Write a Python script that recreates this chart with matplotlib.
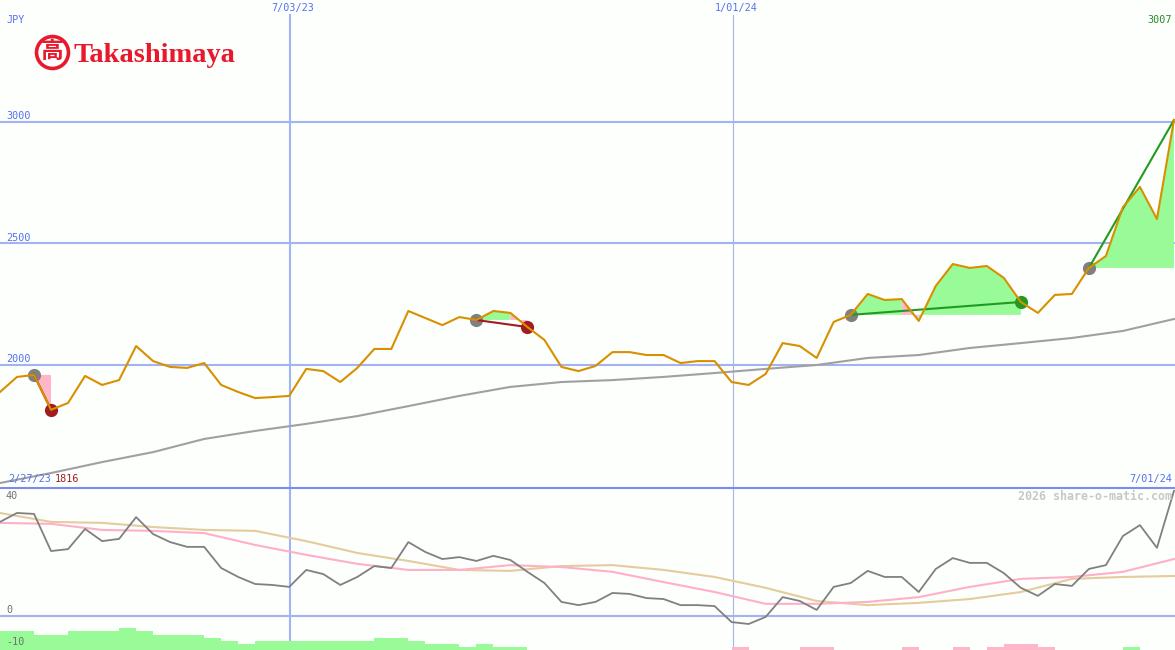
import matplotlib
matplotlib.use("Agg")
import matplotlib.pyplot as plt

# ----------------- Data (weekly) -----------------
price = [1889, 1951, 1959, 1816, 1844, 1955, 1918, 1938, 2078, 2016,
         1992, 1988, 2008, 1918, 1889, 1864, 1868, 1873, 1984, 1975,
         1930, 1988, 2066, 2066, 2222, 2193, 2164, 2197, 2185, 2222,
         2214, 2156, 2103, 1992, 1975, 1996, 2053, 2053, 2041, 2041,
         2008, 2016, 2016, 1930, 1918, 1963, 2090, 2078, 2029, 2177,
         2206, 2292, 2267, 2271, 2181, 2325, 2415, 2399, 2407, 2358,
         2259, 2214, 2288, 2292, 2399, 2448, 2649, 2732, 2600, 3007]

avg_weeks = [0, 3, 6, 9, 12, 15, 18, 21, 24, 27, 30, 33, 36, 39, 42, 45,
             48, 51, 54, 57, 60, 63, 66, 69]
price_avg = [1515, 1556, 1601, 1642, 1696, 1729, 1758, 1790, 1831, 1873,
             1910, 1930, 1938, 1951, 1967, 1984, 2000, 2029, 2041, 2070,
             2090, 2111, 2140, 2189]

osc = [29.4, 32.2, 31.9, 20.3, 20.9, 27.2, 23.4, 24.1, 30.9, 25.6,
       23.1, 21.6, 21.6, 15.0, 12.2, 10.0, 9.7, 9.1, 14.4, 13.1,
       9.7, 12.2, 15.6, 15.0, 23.1, 20.0, 17.8, 18.4, 17.2, 18.8,
       17.5, 13.8, 10.3, 4.4, 3.4, 4.4, 7.2, 6.9, 5.6, 5.3,
       3.4, 3.4, 3.1, -1.9, -2.5, -0.3, 5.9, 4.7, 1.9, 9.1,
       10.3, 14.1, 12.2, 12.2, 7.5, 14.7, 18.1, 16.6, 16.6, 13.4,
       8.8, 6.3, 10.0, 9.4, 14.7, 15.9, 25.0, 28.4, 21.3, 39.1]
osc_fast = [29.1, 28.8, 26.9, 26.6, 25.9, 22.2, 19.1, 16.3, 14.4, 14.4,
            15.9, 15.3, 13.8, 10.6, 7.5, 3.8, 3.8, 4.4, 5.9, 9.1,
            11.6, 12.2, 13.8, 17.8]
osc_slow = [32.2, 29.4, 29.1, 27.8, 26.9, 26.6, 23.4, 19.7, 17.2, 14.4,
            14.1, 15.6, 15.9, 14.4, 12.2, 8.8, 4.7, 3.4, 4.1, 5.3,
            7.5, 11.6, 12.2, 12.5]

# positive = green, negative = pink
hist = [5.9, 5.9, 4.7, 4.7, 5.9, 5.9, 5.9, 6.9, 5.9, 4.7,
        4.7, 4.7, 3.8, 2.8, 1.9, 2.8, 2.8, 2.8, 2.8, 2.8,
        2.8, 2.8, 3.8, 3.8, 2.8, 1.9, 1.9, 0.9, 1.9, 0.9,
        0.9, 0, 0, 0, 0, 0, 0, 0, 0, 0,
        0, 0, 0, -0.9, 0, 0, 0, -0.9, -0.9, 0,
        0, 0, 0, -0.9, 0, 0, -0.9, 0, -0.9, -1.9,
        -1.9, -0.9, 0, 0, 0, 0, 0.9, 0, 0, 0]

trade_start = [2, 28, 50, 64]
trade_end = [3, 31, 60, 69]
trade_closed = [True, True, True, False]

price_ticks = [3000, 2500, 2000]
month_weeks = [17.04, 43.08]
month_labels = ["7/03/23", "1/01/24"]

# ----------------- Colours -----------------
BG = "#fcfffc"
GRID = "#a2b2f2"
AXIS = "#7a8cf0"
LABEL = "#5570f0"
GREEN_FILL = "#98fb98"
PINK_FILL = "#ffb6c8"
GREEN = "#229a22"
RED = "#a01c20"
RED_LOGO = "#e8192c"

W, H = 1175, 650
SPLIT = 488  # pixel row between the two panels
WEEK_PX = 17.014
XMAX = W / WEEK_PX

fig = plt.figure(figsize=(W / 100, H / 100), dpi=100, facecolor=BG)

ax = fig.add_axes([0, 1 - SPLIT / H, 1, SPLIT / H])
ax2 = fig.add_axes([0, 0, 1, (H - SPLIT) / H])
for a in (ax, ax2):
    a.set_facecolor(BG)
    a.set_xlim(0, XMAX)
    a.set_xticks([])
    a.set_yticks([])
    for s in a.spines.values():
        s.set_visible(False)

# px per unit: 0.2433 in the price panel, 3.2 in the lower one
ax.set_ylim(2000 - (SPLIT - 365) / 0.2433, 2000 + 365 / 0.2433)
ax2.set_ylim((616 - H) / 3.2, (616 - SPLIT) / 3.2)
ymin2 = ax2.get_ylim()[0]

# ----------------- Price panel -----------------
for t in price_ticks:
    ax.axhline(t, color=GRID, lw=1.5, zorder=1)
ax.axvline(month_weeks[0], ymin=0, ymax=1 - 15 / SPLIT, color=GRID, lw=1.5, zorder=1)
ax.axvline(month_weeks[1], ymin=0, ymax=1 - 15 / SPLIT, color="#aab4e4", lw=0.8, zorder=1)

for start, end, closed in zip(trade_start, trade_end, trade_closed):
    level = price[start]
    # one patch per run of same coloured weeks, so no seams show between weeks
    run = start
    for i in range(start, end):
        above = price[i + 1] >= level
        if i + 1 == end or (price[i + 2] >= level) != above:
            xs = list(range(run, i + 2))
            ax.fill_between(xs, price[run:i + 2], level, facecolor=GREEN_FILL if above else PINK_FILL,
                            edgecolor="none", zorder=2)
            run = i + 1
    won = price[end] >= level
    ax.plot([start], [level], "o", color="#808080", ms=9.5, mew=0, zorder=3)
    if closed:
        ax.plot([end], [price[end]], "o", color=GREEN if won else RED, ms=9.5, mew=0, zorder=3)
    ax.plot([start, end], [level, price[end]], color=GREEN if won else RED, lw=1.5, zorder=3)

ax.plot(avg_weeks, price_avg, color="#a0a0a0", lw=1.5, zorder=4)
ax.plot(range(len(price)), price, color="#d89000", lw=1.5, zorder=5)

# ----------------- Lower panel -----------------
ax2.axhline(0, color=GRID, lw=1.5, zorder=1)
ax2.axvline(month_weeks[0], color=GRID, lw=1.5, zorder=1)
ax2.axvline(month_weeks[1], color="#aab4e4", lw=0.8, zorder=1)
for i, v in enumerate(hist):
    if v != 0:
        ax2.bar(i, abs(v), width=1, align="edge", bottom=ymin2,
                color=GREEN_FILL if v > 0 else PINK_FILL, lw=0, antialiased=False, zorder=2)
ax2.plot(avg_weeks, osc_slow, color="#e4cc9c", lw=1.5, zorder=3)
ax2.plot(avg_weeks, osc_fast, color="#ffb0c8", lw=1.5, zorder=3)
ax2.plot(range(len(osc)), osc, color="#808080", lw=1.3, zorder=4)

# ----------------- Texts and logo, in pixel coordinates -----------------
over = fig.add_axes([0, 0, 1, 1], facecolor="none")
over.set_xlim(0, W)
over.set_ylim(H, 0)
over.axis("off")
over.plot([0, W], [SPLIT, SPLIT], color=AXIS, lw=1.5, zorder=1)


def label(x, y, s, color=LABEL, ha="left", **kw):
    kw.setdefault("size", 7.3)
    over.text(x, y, s, color=color, ha=ha, va="center", family="DejaVu Sans Mono", **kw)


label(6, 20, "JPY")
label(1172, 20, "3007", color="#2a8a2a", ha="right")
for t, y in zip(price_ticks, [116, 238, 359]):
    label(6, y, str(t))
label(293, 8, month_labels[0], ha="center")
label(736, 8, month_labels[1], ha="center")
label(8, 479, "2/27/23")
label(55, 479, "1816", color=RED)
label(1172, 479, "7/01/24", ha="right")
label(6, 496, "40", color="#707070")
label(6, 610, "0", color="#707070")
label(6, 642, "-10", color="#707070")
label(1172, 496, "2026 share-o-matic.com", color="#c8c8c8", ha="right", size=8.4, weight="bold")

over.plot([52], [52], "o", ms=23, mfc="white", mec=RED_LOGO, mew=2.6, zorder=6)
over.text(52, 51.5, "高", color=RED_LOGO, ha="center", va="center", size=16.5, weight="bold",
          family="Noto Sans CJK JP", zorder=7)
over.text(74, 62, "Takashimaya", color=RED_LOGO, ha="left", va="baseline", size=20.5, weight="bold",
          family="Liberation Serif", zorder=7)

plt.savefig("out.png", dpi=100, facecolor=BG)
plt.close(fig)
